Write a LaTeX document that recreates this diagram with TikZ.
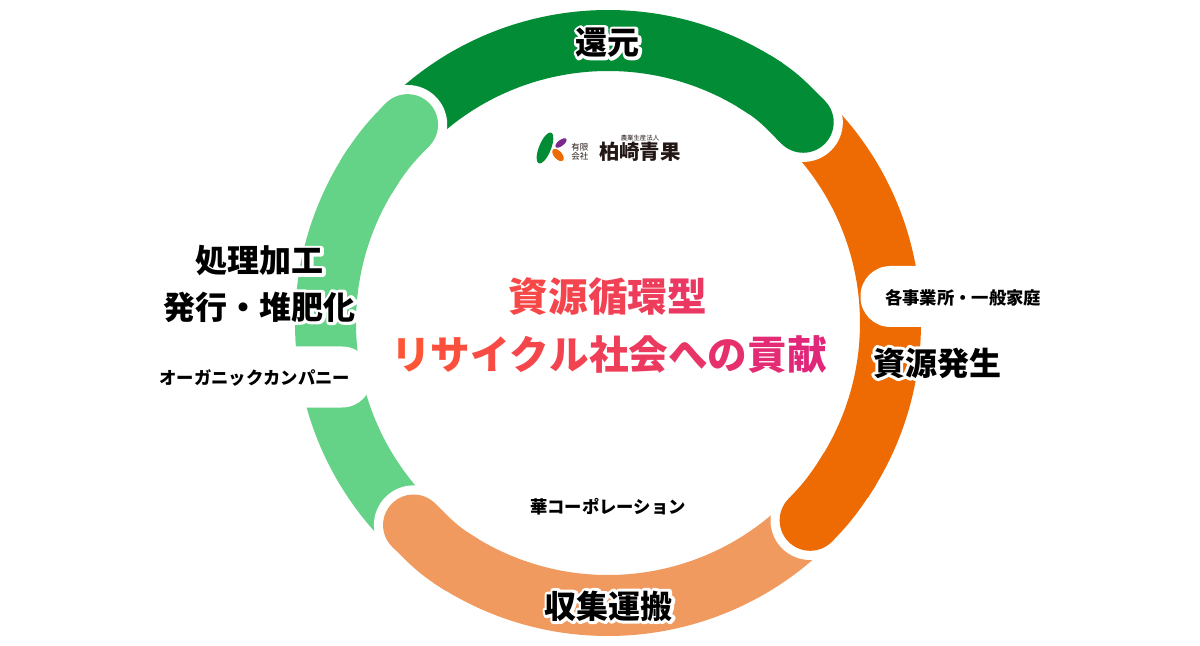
\documentclass[tikz,border=0pt]{standalone}
\usepackage{fontspec}
\usetikzlibrary{shapes.geometric}
\setmainfont{Noto Sans CJK JP}
\definecolor{kangen}{HTML}{038C36}
\definecolor{hassei}{HTML}{EE6A02}
\definecolor{shushu}{HTML}{F09A5F}
\definecolor{shori}{HTML}{64D387}
\definecolor{titleleft}{HTML}{FF5733}
\definecolor{titleright}{HTML}{DF257D}
\definecolor{logopurple}{HTML}{7B2A8C}
\definecolor{logotext}{HTML}{231815}
\newcommand{\tc}[2]{\textcolor{titleright!#1!titleleft}{#2}}
\newcommand{\halo}[1]{\leavevmode\rlap{\special{pdf:code q 1 j 1 J 1 1 1 RG 1 1 1 rg 4.5 w 2 Tr}#1\special{pdf:code 0 Tr Q}}#1}
\tikzset{
  ringarc/.style={line width=45.75pt,line join=round},
  ringcap/.style={circle,inner sep=0pt,minimum size=45.75pt},
  ringhalo/.style={circle,inner sep=0pt,minimum size=59.5pt,fill=white},
  stage/.style={font=\fontsize{24}{24}\bfseries\selectfont,inner sep=0pt},
  company/.style={font=\fontsize{13}{13}\bfseries\selectfont,inner sep=0pt},
  notch/.style={fill=white,rounded corners=22.5pt,minimum height=45.75pt,inner sep=0pt},
  titletext/.style={font=\fontsize{29.7}{30}\bfseries\selectfont,inner sep=0pt},
  logoseed/.style={ellipse,inner sep=0pt},
}
\begin{document}
\begin{tikzpicture}[x=.75pt,y=.75pt]
  \useasboundingbox (-608,-323) rectangle (592,323);

  % ring
  \foreach \segcol/\from/\to in {kangen/135/56,hassei/45/-34,shushu/-45/-124,shori/-134/-214}
    \draw[ringarc,draw=\segcol] (\from:282.5) arc[start angle=\from,end angle=\to,radius=282.5];
  \foreach \segcol/\from/\bend/\to/\caprad/\capname in {kangen/59/56/45.8/280/capa,hassei/-31/-34/-44.3/282.5/capb,shushu/-121/-124/-133.9/280.4/capc,shori/-211/-214/-224.7/282/capd}{
    \pgfmathsetmacro\outang{\bend-90}
    \pgfmathsetmacro\inang{\to+90}
    \node[ringhalo] at (\to:\caprad) {};
    \draw[ringarc,draw=\segcol] (\from:282.5) arc[start angle=\from,end angle=\bend,radius=282.5] to[out=\outang,in=\inang] (\to:\caprad);
    \node[ringcap,fill=\segcol] (\capname) at (\to:\caprad) {};
  }

  % notches with company names
  \node[notch,minimum width=175.5pt] (organic) at (-353,-54) {};
  \node[company] at (-353,-55) {オーガニックカンパニー};
  \node[notch,minimum width=153.75pt] (jigyosho) at (355,26.5) {};
  \node[company] at (355,25) {各事業所・一般家庭};
  \node[company] (hana) at (0,-184) {華コーポレーション};

  % stages
  \node[stage] (kangenlabel) at (0,280) {\halo{還元}};
  \node[stage] (hasseilabel) at (329,-40) {\halo{資源発生}};
  \node[stage] (shushulabel) at (1,-283) {\halo{収集運搬}};
  \node[stage] (shorilabel) at (-348,62) {\halo{処理加工}};
  \node[stage] (hakkolabel) at (-348,16) {\halo{発行・堆肥化}};

  % title
  \node[titletext] (titlea) at (0,26) {\tc{27}{資}\tc{36}{源}\tc{45}{循}\tc{54}{環}\tc{63}{型}};
  \node[titletext] (titleb) at (1,-32) {\tc{4}{リ}\tc{14}{サ}\tc{23}{イ}\tc{32}{ク}\tc{41}{ル}\tc{50}{社}\tc{59}{会}\tc{68}{へ}\tc{77}{の}\tc{86}{貢}\tc{96}{献}};

  % logo
  \node[logoseed,minimum width=25pt,minimum height=9pt,rotate=68,fill=kangen] (leaf) at (-63,175) {};
  \node[logoseed,minimum width=10pt,minimum height=4.5pt,rotate=38,fill=logopurple] (seeda) at (-47,180) {};
  \node[logoseed,minimum width=11pt,minimum height=6pt,rotate=-48,fill=hassei] (seedb) at (-50,168) {};
  \node[inner sep=0pt,align=center,text=logotext,font=\fontsize{6.4}{6.8}\selectfont] (yugen) at (-28,171.5) {有限\\会社};
  \node[inner sep=0pt,text=logotext,font=\fontsize{4.8}{5}\selectfont] (nogyo) at (32,185) {農業生産法人};
  \node[inner sep=0pt,text=logotext,font=\fontsize{15.3}{15}\bfseries\selectfont] (kashiwazaki) at (32,171.5) {柏崎青果};
\end{tikzpicture}
\end{document}
